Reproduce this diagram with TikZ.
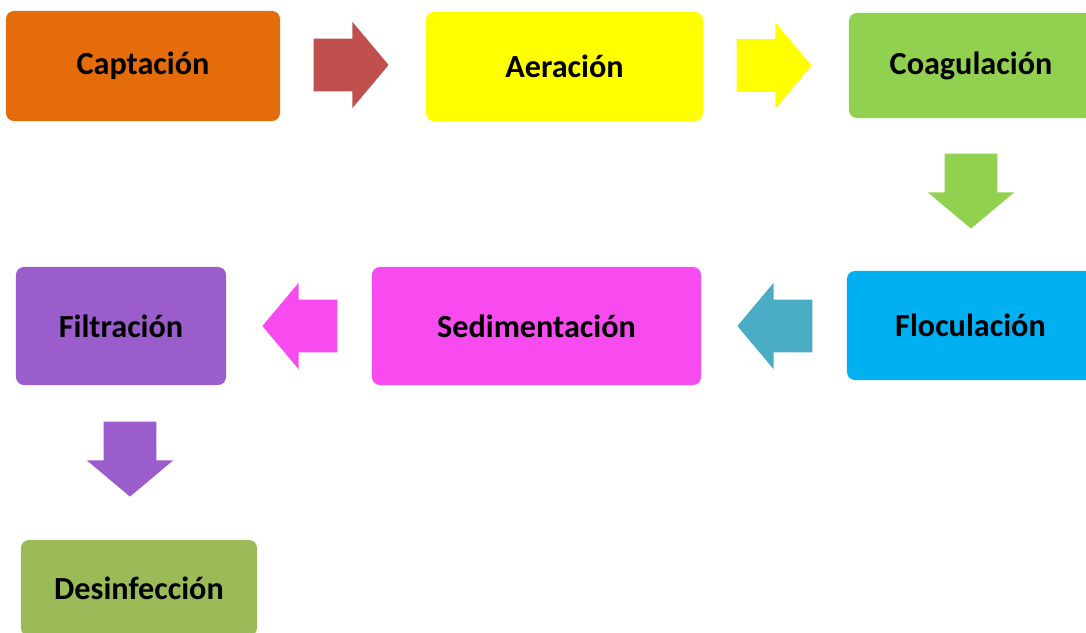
\documentclass[tikz,border=0pt]{standalone}
\usepackage{fontspec}
\setmainfont{Carlito}
\usetikzlibrary{
    shapes.arrows,
    positioning,
    calc
}
\definecolor{captorange}{HTML}{E46C0A}
\definecolor{aeryellow}{HTML}{FFFF00}
\definecolor{coaggreen}{HTML}{92D050}
\definecolor{flocblue}{HTML}{00B0F0}
\definecolor{sedpink}{HTML}{F74BEF}
\definecolor{filtpurple}{HTML}{9B5DCB}
\definecolor{desolive}{HTML}{9BBB59}
\definecolor{arrowred}{HTML}{C0504D}
\definecolor{arrowteal}{HTML}{4BACC6}
\tikzset{%
    % Specifications for style of nodes:
    base/.style = {
        rectangle, rounded corners=0.2cm, draw=none,
        inner sep=0pt, text centered, align=center,
        font=\fontsize{22.9}{27}\selectfont\bfseries
    },
    bigarrow/.style = {
        single arrow, draw=none, inner sep=0pt, anchor=tail,
        text width=0pt, text height=1.3cm, text depth=0pt,
        minimum height=1.875cm,
        single arrow head extend=0.425cm,
        single arrow tip angle=100, single arrow head indent=0pt
    }
}
\begin{document}
\begin{tikzpicture}[x=0.025cm, y=-0.025cm]
    \clip (0,0) rectangle (1086,632);
    % stages
    \node[base, fill=captorange, minimum width=6.85cm, minimum height=2.75cm] (capt) at (143,66) {Captación};
    \node[base, fill=aeryellow, minimum width=6.925cm, minimum height=2.725cm] (aer) at (564.5,66.5) {Aeración};
    \node[base, fill=coaggreen, minimum width=6.1cm, minimum height=2.625cm] (coag) at (971,65.5) {Coagulación};
    \node[base, fill=flocblue, minimum width=6.175cm, minimum height=2.725cm] (floc) at (970.5,325.5) {Floculación};
    \node[base, fill=sedpink, minimum width=8.225cm, minimum height=2.95cm] (sedim) at (536.5,326) {Sedimentación};
    \node[base, fill=filtpurple, minimum width=5.25cm, minimum height=2.95cm] (filt) at (121,326) {Filtración};
    \node[base, fill=desolive, minimum width=5.9cm, minimum height=2.4cm] (desinf) at (139,588) {Desinfección};
    % block arrows between stages
    \node[bigarrow, fill=arrowred] (a1) at ($(capt.east)+(33,-1)$) {};
    \node[bigarrow, fill=aeryellow] (a2) at ($(aer.east)+(33,-1)$) {};
    \node[bigarrow, fill=coaggreen, rotate=-90] (a3) at ($(coag.south)+(0,35)$) {};
    \node[bigarrow, fill=arrowteal, rotate=180] (a4) at ($(floc.west)+(-34,0.5)$) {};
    \node[bigarrow, fill=sedpink, rotate=180] (a5) at ($(sedim.west)+(-34,0)$) {};
    \node[bigarrow, fill=filtpurple, rotate=-90] (a6) at ($(filt.south)+(9,36)$) {};
\end{tikzpicture}
\end{document}
